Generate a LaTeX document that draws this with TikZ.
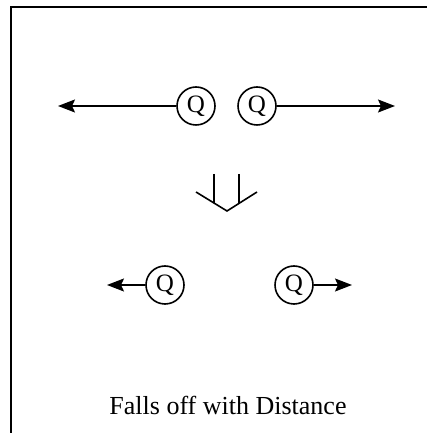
\documentclass[tikz,border=0pt]{standalone}
\usepackage{fontspec}
\setmainfont{Liberation Serif}
\usetikzlibrary{arrows.meta}

\tikzstyle{charge} = [draw, circle, line width=1.6pt, minimum size=38pt, inner sep=0pt, font=\fontsize{25}{30}\selectfont]
\tikzstyle{force} = [line width=1.6pt, -{Stealth[length=17pt, width=13pt, inset=3pt]}]
\tikzstyle{caption} = [font=\fontsize{26}{30}\selectfont, anchor=base]

\begin{document}
\begin{tikzpicture}[x=1pt, y=1pt]
  \useasboundingbox (0,0) rectangle (427,433);
  % frame
  \draw [line width=2.2pt] (11,0) -- (11,426) -- (427,426);
  % close charges
  \node (q1) at (196,327) [charge] {Q};
  \node (q2) at (257,327) [charge] {Q};
  \coordinate (l1) at (58,327);
  \coordinate (r1) at (395,327);
  \draw [force] (q1) to (l1);
  \draw [force] (q2) to (r1);
  % double arrow
  \draw [line width=1.6pt] (214,259) -- (214,230);
  \draw [line width=1.6pt] (239,259) -- (239,230);
  \draw [line width=1.6pt] (196,241) -- (227,222) -- (257,241);
  % far charges
  \node (q3) at (165,148) [charge] {Q};
  \node (q4) at (294,148) [charge] {Q};
  \coordinate (l2) at (107,148);
  \coordinate (r2) at (352,148);
  \draw [force] (q3) to (l2);
  \draw [force] (q4) to (r2);
  \node (txt) at (228,18) [caption] {Falls off with Distance};
\end{tikzpicture}
\end{document}
